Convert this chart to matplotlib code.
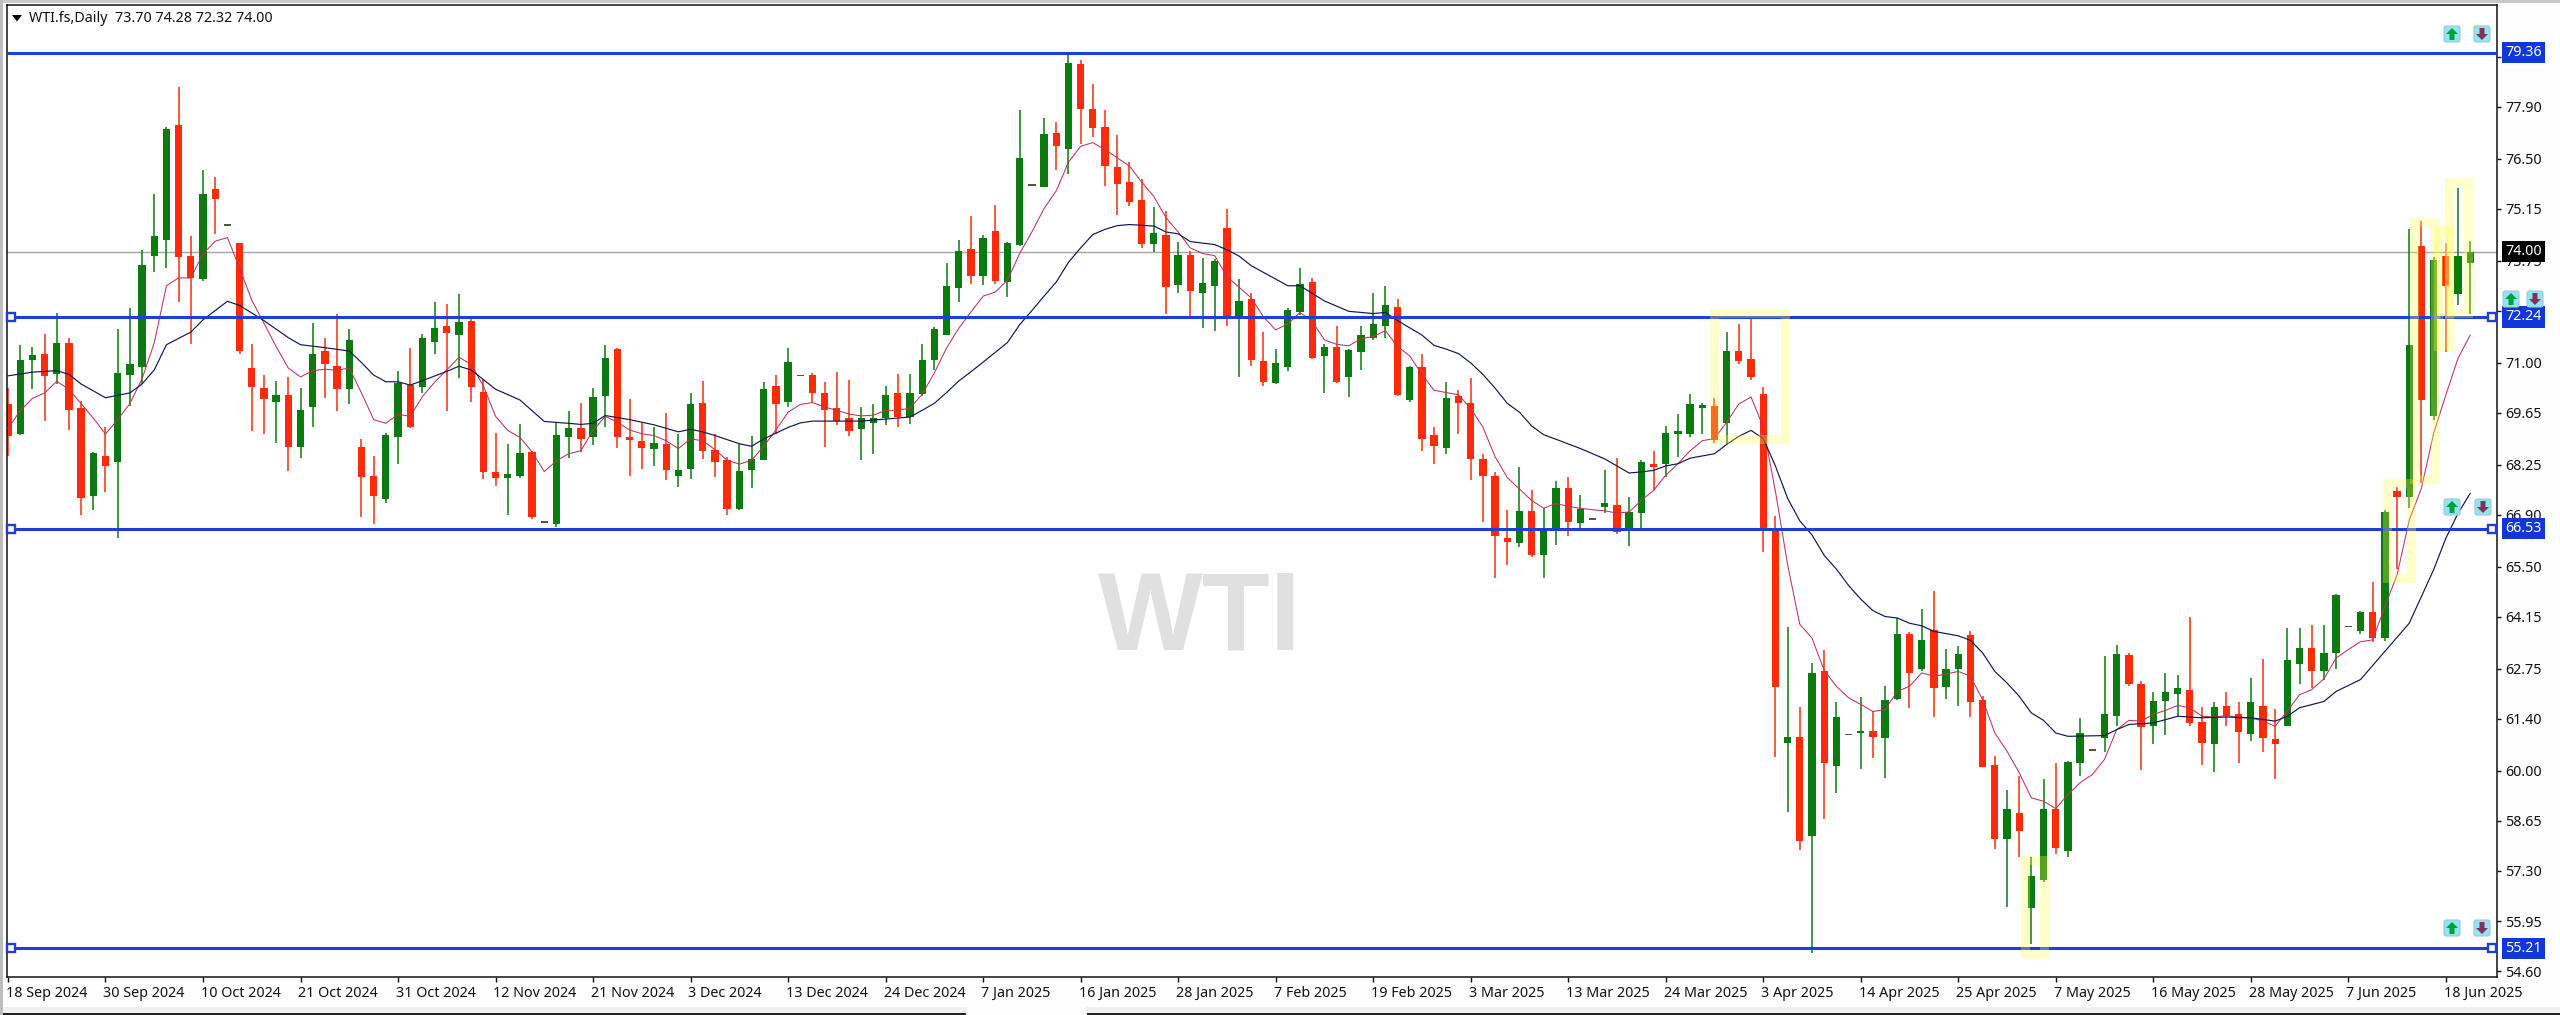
import matplotlib
matplotlib.use("Agg")
import matplotlib.pyplot as plt
from matplotlib.patches import Rectangle, Polygon, FancyBboxPatch
from matplotlib.transforms import Affine2D

W, H = 2560, 1015

# daily candles
opens = [69.90,69.08,71.09,71.25,70.69,71.54,69.77,67.40,68.48,68.33,
         70.67,70.88,73.89,74.30,77.41,73.88,73.27,75.68,74.72,74.23,
         70.86,70.33,69.94,70.13,68.74,69.82,71.33,70.91,70.29,68.73,
         67.95,67.32,69.00,70.40,70.35,71.56,71.99,71.76,72.14,70.21,
         68.07,67.90,67.95,68.59,66.71,66.65,68.99,69.25,68.99,70.11,
         71.37,69.00,68.90,68.68,68.82,67.94,68.15,69.93,68.66,68.39,
         67.07,68.10,68.39,70.37,69.94,70.66,70.66,70.20,69.77,69.50,
         69.21,69.38,69.50,70.20,69.54,70.15,71.09,71.76,73.02,74.08,
         73.35,74.56,73.18,74.19,75.79,75.74,77.20,76.77,79.06,77.85,
         77.36,76.27,75.88,75.39,74.21,74.44,73.11,73.91,72.89,73.06,
         74.65,72.25,72.72,71.04,70.45,70.90,72.36,73.17,71.19,71.44,
         70.61,71.29,71.68,71.99,72.51,69.99,70.88,69.06,68.71,70.10,
         69.93,68.41,67.95,66.28,66.15,67.01,65.83,66.55,67.63,66.67,
         66.80,67.11,67.17,66.53,66.96,68.28,68.28,69.09,69.09,69.79,
         69.85,69.37,71.31,71.10,70.17,66.55,60.76,60.90,58.24,62.69,
         60.14,60.98,61.01,61.06,60.88,61.94,63.70,62.75,63.80,62.26,
         62.75,63.65,61.92,60.17,58.17,58.85,56.29,57.06,58.96,57.84,
         60.22,60.57,60.88,61.49,63.12,62.34,61.20,61.87,62.07,62.17,
         61.31,60.71,61.76,61.52,61.00,61.76,60.86,61.20,62.89,63.32,
         62.68,63.17,63.89,63.78,64.27,63.57,67.55,67.39,74.15,69.56,
         73.87,72.87,73.70]
highs = [70.33,71.49,71.42,71.78,72.34,71.68,69.98,68.60,69.27,71.90,
         72.48,74.04,75.56,77.36,78.44,74.41,76.21,76.01,74.72,74.23,
         71.52,70.67,70.50,70.62,70.33,72.07,71.68,72.31,71.90,68.94,
         68.48,69.11,70.77,71.41,71.78,72.64,72.60,72.86,72.21,70.57,
         69.10,68.81,69.35,68.63,66.71,69.37,69.71,69.92,70.33,71.49,
         71.39,70.03,69.38,69.28,69.64,69.07,70.20,70.51,69.09,68.47,
         68.85,69.04,70.49,70.68,71.40,70.66,70.73,70.49,70.75,70.55,
         69.81,69.88,70.37,70.71,70.71,71.52,71.98,73.69,74.32,74.97,
         74.46,75.27,74.26,77.81,75.79,77.61,77.49,79.36,79.18,78.51,
         77.81,77.15,76.41,75.96,75.19,75.09,74.27,74.03,73.83,73.81,
         75.14,73.26,72.89,71.83,71.37,72.49,73.56,73.30,71.52,71.99,
         71.37,71.99,72.88,73.08,72.71,70.92,71.25,69.27,70.48,70.26,
         70.59,68.53,68.06,67.04,68.19,67.58,67.08,67.82,67.91,67.45,
         66.80,68.10,68.44,67.39,68.37,68.63,69.30,69.62,70.17,69.93,
         70.04,71.83,72.05,72.18,70.35,66.86,63.89,61.73,62.90,63.27,
         61.85,60.98,62.00,61.60,62.30,64.12,63.74,64.36,64.85,63.28,
         63.37,63.78,62.03,60.41,59.47,59.86,57.68,59.78,60.20,60.26,
         61.43,60.57,63.09,63.40,63.19,62.41,62.13,62.65,62.59,64.14,
         61.72,61.85,62.13,61.86,62.50,63.02,61.68,63.85,63.85,63.94,
         63.94,64.77,63.89,64.30,65.08,67.04,67.66,74.62,74.82,73.86,
         74.23,75.72,74.28]
lows = [68.50,69.05,70.30,69.44,70.43,69.18,66.91,67.03,67.51,66.29,
        69.85,70.43,73.44,73.56,72.64,71.51,73.22,74.47,74.72,71.23,
        69.15,69.08,68.84,68.09,68.43,69.27,70.06,69.69,69.90,66.85,
        66.65,67.23,68.26,69.25,70.19,71.25,69.69,70.60,69.95,67.88,
        67.68,66.90,67.90,66.79,66.71,66.58,68.43,68.60,68.79,69.27,
        68.70,67.95,68.13,68.21,67.84,67.65,67.86,68.42,67.92,66.90,
        67.02,67.63,68.37,69.09,69.81,70.66,69.91,68.73,69.33,69.04,
        68.37,68.54,69.33,69.28,69.36,70.10,70.81,71.74,72.65,73.14,
        73.09,73.12,72.77,74.15,75.79,75.74,76.19,76.10,76.89,77.08,
        75.77,74.99,75.23,74.10,73.98,72.32,72.89,72.24,71.95,71.86,
        72.00,70.61,70.92,70.38,70.43,70.78,72.30,71.10,70.20,70.45,
        70.08,70.82,71.62,71.68,70.12,69.95,68.63,68.28,68.55,69.09,
        67.85,66.70,65.19,65.56,66.03,65.77,65.21,66.08,66.33,66.55,
        66.80,66.95,66.39,66.05,66.55,67.58,67.91,68.47,69.00,69.09,
        68.84,68.80,70.98,70.55,65.91,60.36,58.88,57.87,55.09,58.69,
        59.40,60.98,60.06,60.34,59.81,61.92,61.70,62.68,61.44,61.94,
        61.74,61.44,60.10,57.88,56.33,57.68,55.34,56.99,57.77,57.68,
        59.86,60.57,60.50,61.20,62.28,60.02,60.71,60.96,61.47,61.20,
        60.17,59.96,61.20,60.22,60.80,60.50,59.77,61.20,62.35,62.23,
        62.46,62.75,63.89,63.70,63.48,63.50,65.43,67.08,67.75,69.47,
        71.30,72.55,72.32]
closes = [69.03,71.08,71.21,70.65,71.54,69.74,67.36,68.58,68.21,70.72,
          70.96,73.64,74.41,77.30,73.85,73.29,75.56,75.41,74.72,71.33,
          70.35,70.03,70.13,68.74,69.73,71.25,70.98,70.29,71.61,67.93,
          67.40,69.06,70.46,69.27,71.66,71.94,71.80,72.10,70.35,68.05,
          67.90,67.99,68.57,66.85,66.71,69.06,69.25,68.96,70.09,71.12,
          68.99,68.92,68.71,68.85,68.10,68.11,69.89,68.63,68.34,67.07,
          68.08,68.40,70.29,69.90,71.02,70.66,70.19,69.74,69.43,69.16,
          69.51,69.51,70.13,69.55,70.18,71.08,71.90,73.06,74.03,73.35,
          74.37,73.21,74.24,76.53,75.79,77.16,76.84,79.09,77.84,77.34,
          76.31,75.83,75.35,74.21,74.51,73.04,73.91,72.94,73.15,73.74,
          72.27,72.67,71.09,70.48,70.99,72.43,73.13,71.13,71.44,70.48,
          71.34,71.75,72.05,72.55,70.14,70.88,68.96,68.75,70.05,69.91,
          68.41,67.96,66.34,66.17,67.01,65.83,66.53,67.63,66.70,67.07,
          66.80,67.21,66.43,66.97,68.33,68.20,69.11,69.15,69.89,69.86,
          68.92,71.31,71.04,70.61,66.55,62.26,60.90,58.11,62.65,60.22,
          61.45,60.98,61.03,60.92,61.92,63.70,62.64,63.53,62.22,62.74,
          63.16,61.86,60.10,58.17,58.98,58.38,57.17,58.98,57.91,60.24,
          61.02,60.57,61.52,63.16,62.34,61.17,61.89,62.13,62.22,61.29,
          60.75,61.72,61.47,61.04,61.85,60.88,60.71,63.00,63.32,62.68,
          63.19,64.75,63.89,64.27,63.57,66.99,67.39,71.49,69.99,73.78,
          73.07,73.87,74.00]

# fast moving average (crimson), one reading per bar
ma_fast = [69.23,69.71,70.04,70.19,70.50,70.29,69.90,69.51,69.08,69.47,
           69.90,70.57,71.54,73.08,73.29,73.29,73.94,74.28,74.38,73.56,
           72.69,72.07,71.44,70.86,70.62,70.79,70.83,70.80,70.86,70.19,
           69.47,69.37,69.61,69.56,70.09,70.48,70.81,71.15,70.96,70.38,
           69.56,69.18,68.99,68.60,68.07,68.36,68.55,68.63,69.18,69.56,
           69.40,69.19,69.09,69.04,68.90,68.69,68.95,68.90,68.66,68.37,
           68.27,68.37,68.75,69.19,69.67,69.88,69.93,69.81,69.72,69.62,
           69.57,69.59,69.72,69.72,69.78,70.15,70.73,71.40,71.93,72.37,
           72.80,72.91,73.23,73.95,74.53,75.16,75.64,76.41,76.84,76.94,
           76.75,76.53,76.31,75.88,75.49,74.92,74.53,74.10,73.95,73.89,
           73.33,73.04,72.75,72.24,71.89,72.05,72.36,72.12,71.62,71.50,
           71.46,71.65,71.71,71.87,71.44,71.19,70.69,70.26,70.20,70.14,
           69.77,69.27,68.47,67.91,67.60,67.29,67.08,67.21,67.13,67.08,
           67.04,67.01,66.95,66.98,67.29,67.56,67.97,68.28,68.63,68.90,
           68.96,69.40,69.89,70.08,69.27,67.54,65.56,63.95,63.58,62.71,
           62.28,61.97,61.79,61.60,61.65,62.14,62.28,62.64,62.55,62.61,
           62.68,62.55,61.92,61.02,60.53,59.95,59.27,59.18,58.98,59.36,
           59.68,59.90,60.31,61.11,61.36,61.34,61.52,61.63,61.76,61.70,
           61.47,61.45,61.49,61.43,61.43,61.34,61.20,61.61,62.05,62.19,
           62.48,63.04,63.27,63.48,63.53,64.43,65.28,66.76,67.62,69.10,
           70.13,71.12,71.75]

# slow moving average (navy), read where it bends
ma_slow_bar = [0,2,4,5,6,8,10,11,12,13,15,16,18,19,21,23,24,26,28,29,30,31,32,33,34,36,37,38,39,40,
               42,44,46,47,48,49,51,53,55,56,57,58,60,61,62,64,65,66,70,74,75,76,77,78,79,80,82,83,84,85,
               86,87,88,89,90,91,92,94,95,96,97,99,100,101,102,103,105,106,108,110,112,113,114,116,117,118,119,120,121,122,
               123,124,125,126,127,129,131,132,133,134,135,136,137,138,140,141,142,143,144,145,146,147,148,149,150,151,152,153,154,155,
               156,157,158,160,161,162,163,164,165,166,167,168,169,172,173,174,176,178,180,182,184,186,187,188,190,191,193,197,199,200,201,202]
ma_slow = [70.65,70.75,70.79,70.69,70.43,70.06,70.19,70.43,70.81,71.49,71.83,72.16,72.66,72.55,72.14,71.68,71.49,71.41,71.32,71.01,70.67,70.49,70.49,70.40,70.52,70.77,70.91,70.81,70.55,70.29,
           70.00,69.42,69.37,69.34,69.37,69.58,69.47,69.33,69.14,69.21,69.14,69.04,68.82,68.75,68.95,69.26,69.38,69.43,69.43,69.54,69.72,69.91,70.20,70.51,70.76,71.02,71.55,72.03,72.41,72.80,
           73.18,73.71,74.10,74.46,74.60,74.70,74.73,74.69,74.53,74.48,74.27,74.19,74.05,73.88,73.62,73.44,73.08,73.08,72.67,72.39,72.33,72.36,72.14,71.75,71.47,71.37,71.25,71.00,70.69,70.32,
           69.91,69.67,69.30,69.06,68.94,68.69,68.41,68.22,68.03,68.06,68.10,68.22,68.28,68.43,68.55,68.80,69.02,69.18,68.96,68.22,67.35,66.74,66.36,65.81,65.44,65.00,64.63,64.32,64.16,64.12,
           63.98,63.91,63.76,63.64,63.52,63.18,62.68,62.37,62.01,61.56,61.36,61.02,60.93,60.95,61.11,61.25,61.29,61.47,61.43,61.45,61.43,61.34,61.47,61.70,61.87,62.14,62.46,63.98,65.42,66.27,66.94,67.48]

levels = [79.36, 72.24, 66.53, 55.21]
last_price = 74.00
y_ticks = [54.60,55.95,57.30,58.65,60.00,61.40,62.75,64.15,65.50,66.90,68.25,69.65,71.00,
           72.40,73.75,75.15,76.50,77.90,79.25]
date_labels = ["18 Sep 2024","30 Sep 2024","10 Oct 2024","21 Oct 2024","31 Oct 2024","12 Nov 2024",
               "21 Nov 2024","3 Dec 2024","13 Dec 2024","24 Dec 2024","7 Jan 2025","16 Jan 2025",
               "28 Jan 2025","7 Feb 2025","19 Feb 2025","3 Mar 2025","13 Mar 2025","24 Mar 2025",
               "3 Apr 2025","14 Apr 2025","25 Apr 2025","7 May 2025","16 May 2025","28 May 2025",
               "7 Jun 2025","18 Jun 2025"]
label_every = 8

GREEN, RED, BLUE = "#0c7a10", "#fb2b0c", "#1d3fd6"
plt.rcParams["font.family"] = ["Noto Sans", "DejaVu Sans"]
FS = 10.3

fig = plt.figure(figsize=(W / 100, H / 100), dpi=100, facecolor="#fefefe")
left, right, top, bottom = 7, 2497, 5, 977
ax = fig.add_axes([left / W, 1 - bottom / H, (right - left) / W, (bottom - top) / H])
ax.set_xlim(-0.08, 204.2)
ax.set_ylim(54.44, 80.65)

ax.text(97.8, 65.45, "WTI", color="#e0e0e0", fontsize=80, fontweight="bold",
        family="Liberation Sans", ha="center", va="top", zorder=0.5)

ax.axhline(last_price, color="#a4a4a4", lw=1.0, zorder=1)

# candles
for i in range(len(opens)):
    o, h, l, c = opens[i], highs[i], lows[i], closes[i]
    if o == c and h == l:
        ax.bar(i, 0.05, 0.6, o - 0.025, color="#4d5a3c", zorder=2)
        continue
    col = GREEN if c >= o else RED
    ax.vlines(i, l, h, color=col, lw=1.1, zorder=2)
    ax.bar(i, max(abs(c - o), 0.05), 0.6, min(o, c), color=col, zorder=2.1)

ax.plot(range(len(ma_fast)), ma_fast, color="#c2305c", lw=0.75, zorder=3)
ax.plot(ma_slow_bar, ma_slow, color="#10174f", lw=0.85, zorder=3)

for lev in levels:
    ax.axhline(lev, color=BLUE, lw=2.2, zorder=4)
for lev in levels[1:]:
    ax.plot([0.0018, 0.998], [lev, lev], ls="", marker="s", ms=5.5, mfc="white", mec=BLUE, mew=1.7,
            transform=ax.get_yaxis_transform(), clip_on=False, zorder=5)

for s in ax.spines.values():
    s.set_linewidth(1.1)
    s.set_color("#111111")

ax.yaxis.tick_right()
ax.set_yticks(y_ticks)
ax.set_yticklabels([f"{v:.2f}" for v in y_ticks], fontsize=FS, color="#111111")
ax.tick_params(axis="y", length=3, width=1, pad=3, color="#111111")
ticks = list(range(0, label_every * len(date_labels), label_every))
ax.set_xticks(ticks)
ax.set_xticklabels([])
ax.tick_params(axis="x", length=3.6, width=1, color="#111111")
for i, lab in zip(ticks, date_labels):
    ax.annotate(lab, xy=(i, 0), xycoords=ax.get_xaxis_transform(), xytext=(-1.5, -6.5),
                textcoords="offset points", ha="left", va="top", fontsize=FS, color="#111111",
                annotation_clip=False)

# price tags on the scale
for lev in levels:
    ax.annotate(f"{lev:.2f}", xy=(1, lev), xycoords=ax.get_yaxis_transform(), xytext=(5.8, 0),
                textcoords="offset points", ha="left", va="center", fontsize=FS, color="white", zorder=9,
                bbox=dict(boxstyle="square,pad=0.22", fc="#1136dc", ec="none"), annotation_clip=False)
ax.annotate(f"{last_price:.2f}", xy=(1, last_price), xycoords=ax.get_yaxis_transform(), xytext=(5.8, 0),
            textcoords="offset points", ha="left", va="center", fontsize=FS, color="white", zorder=9,
            bbox=dict(boxstyle="square,pad=0.22", fc="black", ec="none"), annotation_clip=False)

# everything below is window furniture, placed in image pixels (y down)
px = Affine2D().scale(1, -1).translate(0, H)


def add(patch):
    patch.set_transform(px)
    fig.add_artist(patch)


add(Rectangle((0, 0), W, 2.5, fc="#c9c9c9", ec="none"))
add(Rectangle((0, 0), 3, H, fc="#bdbdbd", ec="none"))
add(Rectangle((3, 1007), W, 6, fc="#f0f0f0", ec="none"))
add(Rectangle((3, 1012.5), 963, 2.5, fc="#222222", ec="none"))
add(Rectangle((1087, 1012.5), W - 1087, 2.5, fc="#222222", ec="none"))
add(Rectangle((967, 1007), 119, 8, fc="#fefefe", ec="none"))

# highlight boxes
for x0, y0, x1, y1 in [(1709, 308, 1789, 443), (2020, 855, 2048, 958), (2382, 478, 2415, 582),
                       (2409, 217, 2439, 483), (2433, 225, 2453, 350), (2444, 177, 2472, 317)]:
    add(Rectangle((x0 + 4.5, y0 + 4.5), x1 - x0 - 9, y1 - y0 - 9, fc="none",
                  ec=(1, 1, 0.3, 0.3), lw=6.5))

# up/down buttons of the level lines
UP = [(0, -6), (6, 0), (2.5, 0), (2.5, 6), (-2.5, 6), (-2.5, 0), (-6, 0)]
for cx, cy, up in [(2452, 34, True), (2482, 34, False), (2511, 299, True), (2535, 299, False),
                   (2452, 507, True), (2483, 507, False), (2452, 928, True), (2482, 928, False)]:
    add(FancyBboxPatch((cx - 7, cy - 7), 14, 14, boxstyle="round,pad=1,rounding_size=2",
                       fc="#8fe6ef", ec="#a8c4d8", lw=0.8))
    pts = [(cx + a, cy + (b if up else -b)) for a, b in UP]
    add(Polygon(pts, closed=True, fc="#00a03c" if up else "#84305f", ec="none"))

add(Polygon([(12, 15), (22, 15), (17, 21.5)], closed=True, fc="black", ec="none"))
fig.text(29 / W, 1 - 18 / H, "WTI.fs,Daily  73.70 74.28 72.32 74.00", fontsize=FS, color="#111111",
         ha="left", va="center")

fig.savefig("out.png", dpi=100, facecolor=fig.get_facecolor())
